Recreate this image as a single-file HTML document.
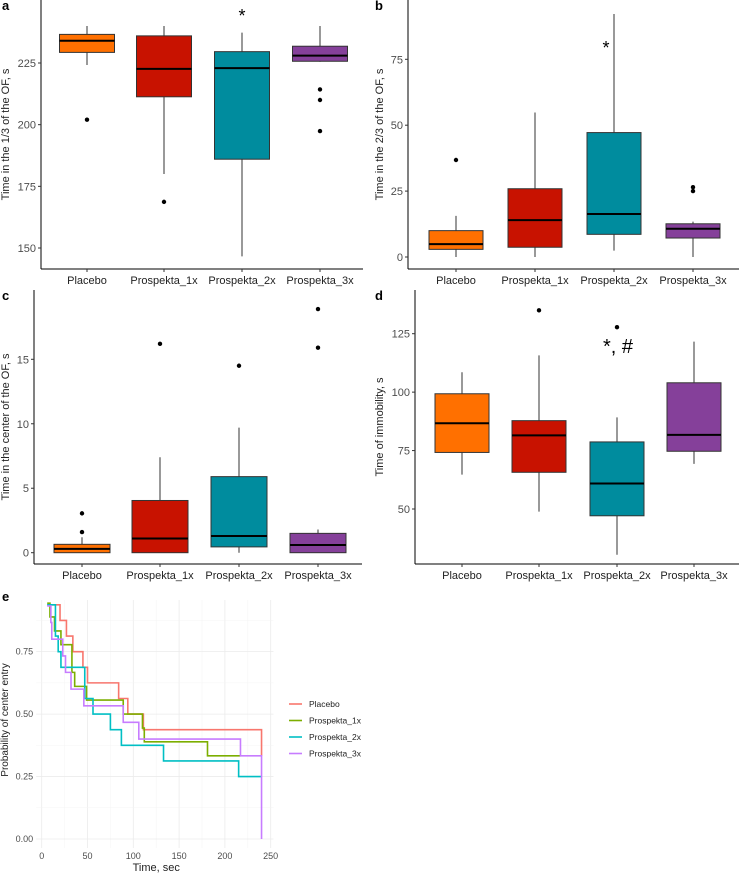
<!DOCTYPE html>
<html><head><meta charset="utf-8"><style>
body{margin:0;background:#fff}
svg{display:block;font-family:"Liberation Sans",Arial,sans-serif}
</style></head><body>
<svg id="fig" width="742" height="877" viewBox="0 0 742 877"></svg>
<script>
const categories=["Placebo","Prospekta_1x","Prospekta_2x","Prospekta_3x"];
const boxColors=["#FF7000","#C81200","#008C9E","#85409A"];
// [low, q1, median, q3, high]
const statsA=[[224.2,229.3,234,236.6,240],[180,211.3,222.6,236,240],[146.6,186,222.9,229.6,237.3],[225.5,225.7,228,231.8,240]];
const outA=[[202],[168.7],[],[214.3,210,197.4]];
const statsB=[[0,2.9,4.9,10,15.6],[0,3.7,14,25.9,54.8],[2.4,8.6,16.3,47.2,92.2],[0,7.2,10.7,12.6,13.4]];
const outB=[[36.8],[],[],[26.5,25]];
const statsC=[[0,0,0.3,0.65,1.2],[0,0,1.1,4.05,7.4],[0,0.45,1.3,5.9,9.7],[0,0,0.6,1.5,1.8]];
const outC=[[1.6,3.05],[16.2],[14.5],[15.9,18.9]];
const statsD=[[64.7,74.2,86.7,99.3,108.5],[48.9,65.7,81.5,87.8,115.7],[30.4,47.1,60.9,78.7,89.2],[69.3,74.7,81.7,104,121.6]];
const outD=[[],[135],[127.8],[]];
const ticksA=[150,175,200,225], ticksB=[0,25,50,75], ticksC=[0,5,10,15], ticksD=[50,75,100,125];

// KM data
const kmNames=["Placebo","Prospekta_1x","Prospekta_2x","Prospekta_3x"];
const kmColors=["#F8766D","#7CAE00","#00BFC4","#C77CFF"];
const kmTimesP=[6,20,27,34,45,50,84,94,111,240];
const kmSurvP=[0.9375,0.875,0.8125,0.75,0.6875,0.625,0.5625,0.5,0.4375,0.333];
const kmTimes1=[6,9,14,21,33,36,49,89,110,112,181,217];
const kmSurv1=[0.944,0.889,0.833,0.778,0.667,0.611,0.556,0.5,0.444,0.389,0.333,0.333];
const kmTimes2=[6,15,18,21,47,56,75,87,133,215,240];
const kmSurv2=[0.9375,0.8125,0.75,0.6875,0.5625,0.5,0.4375,0.375,0.3125,0.25,0.25];
const kmTimes3=[6,10,11,23,26,32,46,89,106,217,240];
const kmSurv3=[0.933,0.867,0.8,0.733,0.667,0.6,0.533,0.467,0.4,0.333,0];
const kmTicksX=[0,50,100,150,200,250], kmTicksY=[0,0.25,0.5,0.75];

const NS="http://www.w3.org/2000/svg";
const svg=document.getElementById('fig');
function mk(tag,attrs,parent,name){const e=document.createElementNS(NS,tag);for(const k in attrs)e.setAttribute(k,attrs[k]);(parent||svg).appendChild(e);


return e;}
function txt(s,x,y,attrs,name){const t=mk('text',Object.assign({x:x,y:y},attrs),null,name);t.textContent=s;return t;}

function boxPanel(p){
  const yS=v=>p.y0-(v-p.v0)*(p.y1-p.y0)/(p.v1-p.v0)*-1;
  const ys=v=>p.y0+(v-p.v0)*(p.y1-p.y0)/(p.v1-p.v0);
  const g=mk('g',{},null,p.id+'-panel');
  mk('line',{x1:p.ax,y1:p.top,x2:p.ax,y2:p.axY,stroke:'#000','stroke-width':1},g,'y-axis-line');
  mk('line',{x1:p.ax,y1:p.axY,x2:p.right,y2:p.axY,stroke:'#000','stroke-width':1},g,'x-axis-line');
  p.ticks.forEach(t=>{const y=ys(t);
    mk('line',{x1:p.ax-3,y1:y,x2:p.ax,y2:y,stroke:'#333'},g,'y-tick');
    txt(String(t),p.ax-5,y+4,{'text-anchor':'end','font-size':11,fill:'#4d4d4d'},'y-tick-label');});
  categories.forEach((c,i)=>{const x=p.cx[i],s=p.stats[i],w=p.bw/2;
    mk('line',{x1:x,y1:ys(s[0]),x2:x,y2:ys(s[4]),stroke:'#333','stroke-width':1},g,'whisker-'+c);
    mk('rect',{x:x-w,y:ys(s[3]),width:p.bw,height:ys(s[1])-ys(s[3]),fill:boxColors[i],stroke:'#333','stroke-width':1},g,'box-'+c);
    mk('line',{x1:x-w,y1:ys(s[2]),x2:x+w,y2:ys(s[2]),stroke:'#000','stroke-width':2},g,'median-'+c);
    p.out[i].forEach(o=>mk('circle',{cx:x,cy:ys(o),r:2.2,fill:'#000'},g,'outlier-'+c));
    mk('line',{x1:x,y1:p.axY,x2:x,y2:p.axY+3,stroke:'#333'},g,'x-tick');
    txt(c,x,p.axY+15,{'text-anchor':'middle','font-size':11,fill:'#222'},'x-tick-label');
  });
  const ty=(p.top+p.axY)/2;
  txt(p.title,p.tx,ty,{'text-anchor':'middle','font-size':11,fill:'#222',transform:`rotate(-90 ${p.tx} ${ty})`},'y-axis-title');
  txt(p.label,p.lx,11,{'font-size':13,'font-weight':'bold',transform:`translate(0 ${p.top-1})`},'panel-label');
  (p.ann||[]).forEach(a=>txt(a.s,a.x,a.y,{'text-anchor':'middle','font-size':a.fs,fill:'#000'},'significance-mark'));
}
boxPanel({id:'a',label:'a',lx:2,top:0,ax:41,axY:269,right:363,y0:63,v0:225,y1:248,v1:150,ticks:ticksA,cx:[87,164,242,320],bw:55,stats:statsA,out:outA,title:'Time in the 1/3 of the OF, s',tx:9,ann:[{s:'*',x:242,y:22,fs:18}]});
boxPanel({id:'b',label:'b',lx:375,top:0,ax:408,axY:269,right:739,y0:257,v0:0,y1:59.3,v1:75,ticks:ticksB,cx:[456,535,614,693],bw:54,stats:statsB,out:outB,title:'Time in the 2/3 of the OF, s',tx:383,ann:[{s:'*',x:606,y:54,fs:18}]});
boxPanel({id:'c',label:'c',lx:2,top:290,ax:34,axY:564,right:362,y0:552.7,v0:0,y1:359.3,v1:15,ticks:ticksC,cx:[82,160,239,318],bw:56,stats:statsC,out:outC,title:'Time in the center of the OF, s',tx:9});
boxPanel({id:'d',label:'d',lx:375,top:290,ax:415,axY:564,right:739,y0:509,v0:50,y1:333.7,v1:125,ticks:ticksD,cx:[462,539,617,694],bw:54,stats:statsD,out:outD,title:'Time of immobility, s',tx:383,ann:[{s:'*, #',x:618,y:353,fs:20}]});

// Panel e
(function(){
  const xs=t=>41.7+t*0.916, ys=v=>839-v*249.8;
  const g=mk('g',{},null,'e-panel');
  const L=xs(-6),R=xs(253),T=600,B=848;
  for(let t=0;t<=250;t+=25){mk('line',{x1:xs(t),y1:T,x2:xs(t),y2:B,stroke:t%50?'#f4f4f4':'#ebebeb','stroke-width':t%50?0.5:0.8},g,'x-gridline');}
  for(let v=0;v<=0.875;v+=0.125){mk('line',{x1:L,y1:ys(v),x2:R,y2:ys(v),stroke:(v*8)%2?'#f4f4f4':'#ebebeb','stroke-width':(v*8)%2?0.5:0.8},g,'y-gridline');}
  kmTicksX.forEach(t=>txt(String(t),xs(t),B+11,{'text-anchor':'middle','font-size':9,fill:'#4d4d4d'},'x-tick-label'));
  kmTicksY.forEach(v=>txt(v.toFixed(2),L-3,ys(v)+3,{'text-anchor':'end','font-size':9,fill:'#4d4d4d'},'y-tick-label'));
  const series=[[kmTimesP,kmSurvP],[kmTimes1,kmSurv1],[kmTimes2,kmSurv2],[kmTimes3,kmSurv3]];
  series.forEach((s,i)=>{const [tt,ss]=s;let d=`M${xs(tt[0])},${ys(ss[0])}`;
    for(let k=1;k<tt.length;k++){d+=` H${xs(tt[k])} V${ys(ss[k])}`;}
    mk('path',{d:d,fill:'none',stroke:kmColors[i],'stroke-width':1.6},g,'km-curve-'+kmNames[i]);});
  kmNames.forEach((n,i)=>{const y=704+i*16.5;
    mk('line',{x1:289,y1:y,x2:302,y2:y,stroke:kmColors[i],'stroke-width':1.6},g,'legend-key-'+n);
    txt(n,309,y+3,{'font-size':8.5,fill:'#222'},'legend-entry-'+n);});
  txt('Time, sec',xs(125),871,{'text-anchor':'middle','font-size':11,fill:'#222'},'x-axis-title');
  txt('Probability of center entry',8,720,{'text-anchor':'middle','font-size':10,fill:'#222',transform:'rotate(-90 8 720)'},'y-axis-title');
  txt('e',2,601,{'font-size':13,'font-weight':'bold'},'panel-label');
})();
</script>
</body></html>
